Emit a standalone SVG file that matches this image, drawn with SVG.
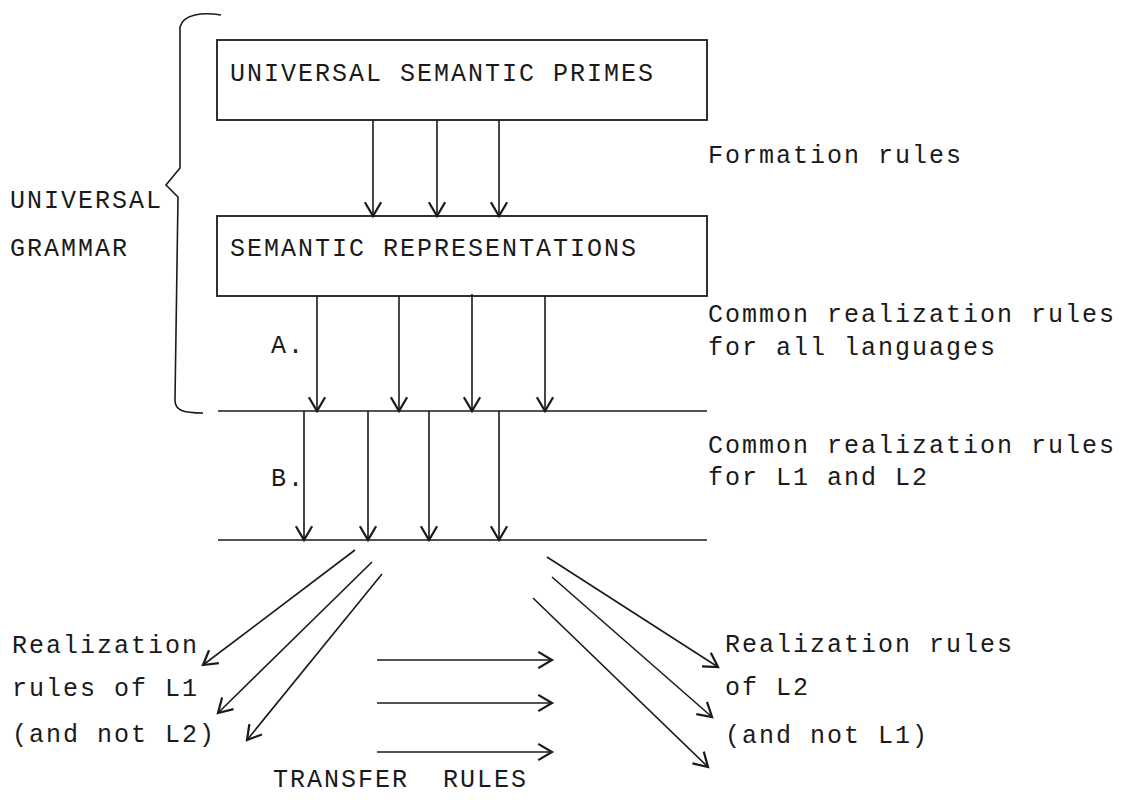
<svg xmlns="http://www.w3.org/2000/svg" width="1127" height="800" viewBox="0 0 1127 800">
<style>
text{font-family:"Liberation Mono","Courier New",monospace;font-size:25px;letter-spacing:2px;fill:#1a1a1a}
.ln{stroke:#1a1a1a;stroke-width:1.6;fill:none}
.ar{stroke:#1a1a1a;stroke-width:1.6;fill:none;marker-end:url(#v)}
.box{stroke:#1a1a1a;stroke-width:1.8;fill:#fff}
</style>
<defs>
<marker id="v" markerUnits="userSpaceOnUse" markerWidth="20" markerHeight="20" viewBox="-12 -8 14 16" refX="0" refY="0" orient="auto">
<path d="M-11,-6.5 L0,0 L-11,6.5" fill="none" stroke="#1a1a1a" stroke-width="1.8"/>
</marker>
</defs>
<rect width="1127" height="800" fill="#fff"/>

<g id="brace">
<path class="ln" d="M221,15 C203,12 183,14 180,27 L180,168 L166,185 L178,197 L175,400 C175,410 182,413 203,413"/>
<text x="10" y="208">UNIVERSAL</text>
<text x="10" y="256">GRAMMAR</text>
</g>

<g id="primes">
<rect class="box" x="217" y="40" width="490" height="80"/>
<text x="230" y="81">UNIVERSAL SEMANTIC PRIMES</text>
</g>

<g id="representations">
<rect class="box" x="217" y="216" width="490" height="80"/>
<text x="230" y="256">SEMANTIC REPRESENTATIONS</text>
</g>

<g id="level-a">
<line class="ln" x1="218" y1="411" x2="707" y2="411"/>
</g>

<g id="level-b">
<line class="ln" x1="218" y1="540" x2="707" y2="540"/>
</g>

<g id="labels">
<text x="708" y="163">Formation rules</text>
<text x="708" y="322">Common realization rules</text>
<text x="708" y="355">for all languages</text>
<text x="271" y="353">A.</text>
<text x="708" y="453">Common realization rules</text>
<text x="708" y="485">for L1 and L2</text>
<text x="271" y="486">B.</text>
</g>

<g id="l1-rules">
<text x="12" y="653">Realization</text>
<text x="12" y="696">rules of L1</text>
<text x="12" y="742">(and not L2)</text>
</g>

<g id="l2-rules">
<text x="725" y="652">Realization rules</text>
<text x="725" y="695">of L2</text>
<text x="725" y="743">(and not L1)</text>
</g>

<g id="transfer">
<text x="273" y="787" xml:space="preserve">TRANSFER  RULES</text>
</g>

<g id="connectors">
<line class="ar" x1="373" y1="120" x2="373" y2="216"/>
<line class="ar" x1="437" y1="120" x2="437" y2="216"/>
<line class="ar" x1="499" y1="120" x2="499" y2="216"/>

<line class="ar" x1="317" y1="296" x2="317" y2="411"/>
<line class="ar" x1="399" y1="296" x2="399" y2="411"/>
<line class="ar" x1="472" y1="294" x2="472" y2="411"/>
<line class="ar" x1="545" y1="296" x2="545" y2="411"/>

<line class="ar" x1="304" y1="411" x2="304" y2="540"/>
<line class="ar" x1="368" y1="411" x2="368" y2="540"/>
<line class="ar" x1="429" y1="411" x2="429" y2="540"/>
<line class="ar" x1="499" y1="411" x2="499" y2="540"/>

<line class="ar" x1="355" y1="550" x2="203" y2="665"/>
<line class="ar" x1="372" y1="562" x2="218" y2="713"/>
<line class="ar" x1="382" y1="574" x2="247" y2="740"/>

<line class="ar" x1="547" y1="557" x2="718" y2="667"/>
<line class="ar" x1="552" y1="577" x2="712" y2="717"/>
<line class="ar" x1="533" y1="598" x2="708" y2="767"/>

<line class="ar" x1="377" y1="660" x2="552" y2="660"/>
<line class="ar" x1="377" y1="703" x2="552" y2="703"/>
<line class="ar" x1="377" y1="752" x2="552" y2="752"/>
</g>
</svg>
